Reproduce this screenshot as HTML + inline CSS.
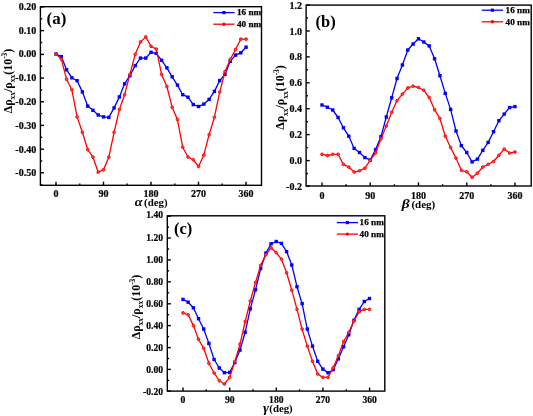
<!DOCTYPE html>
<html><head><meta charset="utf-8"><title>Angular magnetoresistance</title>
<style>
html,body{margin:0;padding:0;background:#fff;}
body{width:533px;height:416px;overflow:hidden;}
svg{display:block;will-change:transform;opacity:0.999;}
text{font-family:"Liberation Serif",serif;font-weight:bold;fill:#000;}
.tk{font-size:10px;stroke:#000;stroke-width:0.2px;}
.tt{}
.lg{font-size:9.2px;stroke:#000;stroke-width:0.25px;}
.ax{stroke:#000;stroke-width:1.4;}
</style></head><body>
<svg width="533" height="416" viewBox="0 0 533 416">
<rect x="0" y="0" width="533" height="416" fill="#ffffff"/>
<line x1="40.4" x2="44.0" y1="6.9" y2="6.9" class="ax"/><text x="36.2" y="9.78" class="tk" text-anchor="end" style="font-size:10px">0.20</text><line x1="40.4" x2="44.0" y1="30.6" y2="30.6" class="ax"/><text x="36.2" y="33.59" class="tk" text-anchor="end" style="font-size:10px">0.10</text><line x1="40.4" x2="44.0" y1="54.4" y2="54.4" class="ax"/><text x="36.2" y="57.40" class="tk" text-anchor="end" style="font-size:10px">0.00</text><line x1="40.4" x2="44.0" y1="78.1" y2="78.1" class="ax"/><text x="36.2" y="81.21" class="tk" text-anchor="end" style="font-size:10px">-0.10</text><line x1="40.4" x2="44.0" y1="101.8" y2="101.8" class="ax"/><text x="36.2" y="105.02" class="tk" text-anchor="end" style="font-size:10px">-0.20</text><line x1="40.4" x2="44.0" y1="125.4" y2="125.4" class="ax"/><text x="36.2" y="128.83" class="tk" text-anchor="end" style="font-size:10px">-0.30</text><line x1="40.4" x2="44.0" y1="149.2" y2="149.2" class="ax"/><text x="36.2" y="152.64" class="tk" text-anchor="end" style="font-size:10px">-0.40</text><line x1="40.4" x2="44.0" y1="172.8" y2="172.8" class="ax"/><text x="36.2" y="176.45" class="tk" text-anchor="end" style="font-size:10px">-0.50</text><line x1="40.4" x2="42.2" y1="18.8" y2="18.8" class="ax"/><line x1="40.4" x2="42.2" y1="42.5" y2="42.5" class="ax"/><line x1="40.4" x2="42.2" y1="66.2" y2="66.2" class="ax"/><line x1="40.4" x2="42.2" y1="89.9" y2="89.9" class="ax"/><line x1="40.4" x2="42.2" y1="113.6" y2="113.6" class="ax"/><line x1="40.4" x2="42.2" y1="137.3" y2="137.3" class="ax"/><line x1="40.4" x2="42.2" y1="161.0" y2="161.0" class="ax"/><line x1="40.4" x2="42.2" y1="184.7" y2="184.7" class="ax"/><line x1="56.0" x2="56.0" y1="185.3" y2="181.7" class="ax"/><text x="56.0" y="197.2" class="tk" text-anchor="middle" style="font-size:10px">0</text><line x1="103.5" x2="103.5" y1="185.3" y2="181.7" class="ax"/><text x="103.5" y="197.2" class="tk" text-anchor="middle" style="font-size:10px">90</text><line x1="151.0" x2="151.0" y1="185.3" y2="181.7" class="ax"/><text x="151.0" y="197.2" class="tk" text-anchor="middle" style="font-size:10px">180</text><line x1="198.5" x2="198.5" y1="185.3" y2="181.7" class="ax"/><text x="198.5" y="197.2" class="tk" text-anchor="middle" style="font-size:10px">270</text><line x1="246.0" x2="246.0" y1="185.3" y2="181.7" class="ax"/><text x="246.0" y="197.2" class="tk" text-anchor="middle" style="font-size:10px">360</text><line x1="79.8" x2="79.8" y1="185.3" y2="183.5" class="ax"/><line x1="127.2" x2="127.2" y1="185.3" y2="183.5" class="ax"/><line x1="174.8" x2="174.8" y1="185.3" y2="183.5" class="ax"/><line x1="222.2" x2="222.2" y1="185.3" y2="183.5" class="ax"/><polyline fill="none" stroke="#0000ff" stroke-width="1.30" stroke-linejoin="round" points="56.0,54.0 61.3,56.6 66.6,69.8 71.8,77.8 77.1,80.7 82.4,91.9 87.7,106.1 93.0,110.3 98.2,115.0 103.5,116.9 108.8,117.4 114.1,107.9 119.4,96.9 124.6,83.8 129.9,75.7 135.2,65.6 140.5,58.1 145.8,58.1 151.0,52.3 156.3,53.4 161.6,60.3 166.9,67.8 172.2,76.8 177.4,85.1 182.7,94.7 188.0,97.2 193.3,104.6 198.6,106.5 203.8,104.1 209.1,99.4 214.4,91.4 219.7,80.6 225.0,74.4 230.2,61.3 235.5,55.1 240.8,52.8 246.1,47.2"/><rect x="54.30" y="52.30" width="3.4" height="3.4" fill="#0000ff"/><rect x="59.58" y="54.90" width="3.4" height="3.4" fill="#0000ff"/><rect x="64.86" y="68.10" width="3.4" height="3.4" fill="#0000ff"/><rect x="70.14" y="76.10" width="3.4" height="3.4" fill="#0000ff"/><rect x="75.42" y="79.00" width="3.4" height="3.4" fill="#0000ff"/><rect x="80.70" y="90.20" width="3.4" height="3.4" fill="#0000ff"/><rect x="85.98" y="104.40" width="3.4" height="3.4" fill="#0000ff"/><rect x="91.26" y="108.60" width="3.4" height="3.4" fill="#0000ff"/><rect x="96.54" y="113.30" width="3.4" height="3.4" fill="#0000ff"/><rect x="101.82" y="115.20" width="3.4" height="3.4" fill="#0000ff"/><rect x="107.10" y="115.70" width="3.4" height="3.4" fill="#0000ff"/><rect x="112.38" y="106.20" width="3.4" height="3.4" fill="#0000ff"/><rect x="117.66" y="95.20" width="3.4" height="3.4" fill="#0000ff"/><rect x="122.94" y="82.10" width="3.4" height="3.4" fill="#0000ff"/><rect x="128.22" y="74.00" width="3.4" height="3.4" fill="#0000ff"/><rect x="133.50" y="63.90" width="3.4" height="3.4" fill="#0000ff"/><rect x="138.78" y="56.40" width="3.4" height="3.4" fill="#0000ff"/><rect x="144.06" y="56.40" width="3.4" height="3.4" fill="#0000ff"/><rect x="149.34" y="50.60" width="3.4" height="3.4" fill="#0000ff"/><rect x="154.62" y="51.70" width="3.4" height="3.4" fill="#0000ff"/><rect x="159.90" y="58.60" width="3.4" height="3.4" fill="#0000ff"/><rect x="165.18" y="66.10" width="3.4" height="3.4" fill="#0000ff"/><rect x="170.46" y="75.10" width="3.4" height="3.4" fill="#0000ff"/><rect x="175.74" y="83.40" width="3.4" height="3.4" fill="#0000ff"/><rect x="181.02" y="93.00" width="3.4" height="3.4" fill="#0000ff"/><rect x="186.30" y="95.50" width="3.4" height="3.4" fill="#0000ff"/><rect x="191.58" y="102.90" width="3.4" height="3.4" fill="#0000ff"/><rect x="196.86" y="104.80" width="3.4" height="3.4" fill="#0000ff"/><rect x="202.14" y="102.40" width="3.4" height="3.4" fill="#0000ff"/><rect x="207.42" y="97.70" width="3.4" height="3.4" fill="#0000ff"/><rect x="212.70" y="89.70" width="3.4" height="3.4" fill="#0000ff"/><rect x="217.98" y="78.90" width="3.4" height="3.4" fill="#0000ff"/><rect x="223.26" y="72.70" width="3.4" height="3.4" fill="#0000ff"/><rect x="228.54" y="59.60" width="3.4" height="3.4" fill="#0000ff"/><rect x="233.82" y="53.40" width="3.4" height="3.4" fill="#0000ff"/><rect x="239.10" y="51.10" width="3.4" height="3.4" fill="#0000ff"/><rect x="244.38" y="45.50" width="3.4" height="3.4" fill="#0000ff"/><polyline fill="none" stroke="#ff0000" stroke-width="1.30" stroke-linejoin="round" points="56.0,54.0 61.3,59.1 66.6,79.3 71.8,89.7 77.1,116.9 82.4,132.3 87.7,149.7 93.0,157.2 98.2,172.2 103.5,169.8 108.8,157.2 114.1,132.3 119.4,109.4 124.6,94.7 129.9,74.4 135.2,54.3 140.5,41.9 145.8,36.9 151.0,46.3 156.3,49.1 161.6,74.4 166.9,86.6 172.2,107.3 177.4,119.5 182.7,147.2 188.0,157.0 193.3,159.8 198.6,166.5 203.8,155.1 209.1,134.7 214.4,117.2 219.7,92.1 225.0,71.6 230.2,59.4 235.5,49.5 240.8,39.1 246.1,39.1"/><circle cx="56.0" cy="54.0" r="1.35" fill="#ff4545" stroke="#ff0000" stroke-width="0.9"/><circle cx="61.3" cy="59.1" r="1.35" fill="#ff4545" stroke="#ff0000" stroke-width="0.9"/><circle cx="66.6" cy="79.3" r="1.35" fill="#ff4545" stroke="#ff0000" stroke-width="0.9"/><circle cx="71.8" cy="89.7" r="1.35" fill="#ff4545" stroke="#ff0000" stroke-width="0.9"/><circle cx="77.1" cy="116.9" r="1.35" fill="#ff4545" stroke="#ff0000" stroke-width="0.9"/><circle cx="82.4" cy="132.3" r="1.35" fill="#ff4545" stroke="#ff0000" stroke-width="0.9"/><circle cx="87.7" cy="149.7" r="1.35" fill="#ff4545" stroke="#ff0000" stroke-width="0.9"/><circle cx="93.0" cy="157.2" r="1.35" fill="#ff4545" stroke="#ff0000" stroke-width="0.9"/><circle cx="98.2" cy="172.2" r="1.35" fill="#ff4545" stroke="#ff0000" stroke-width="0.9"/><circle cx="103.5" cy="169.8" r="1.35" fill="#ff4545" stroke="#ff0000" stroke-width="0.9"/><circle cx="108.8" cy="157.2" r="1.35" fill="#ff4545" stroke="#ff0000" stroke-width="0.9"/><circle cx="114.1" cy="132.3" r="1.35" fill="#ff4545" stroke="#ff0000" stroke-width="0.9"/><circle cx="119.4" cy="109.4" r="1.35" fill="#ff4545" stroke="#ff0000" stroke-width="0.9"/><circle cx="124.6" cy="94.7" r="1.35" fill="#ff4545" stroke="#ff0000" stroke-width="0.9"/><circle cx="129.9" cy="74.4" r="1.35" fill="#ff4545" stroke="#ff0000" stroke-width="0.9"/><circle cx="135.2" cy="54.3" r="1.35" fill="#ff4545" stroke="#ff0000" stroke-width="0.9"/><circle cx="140.5" cy="41.9" r="1.35" fill="#ff4545" stroke="#ff0000" stroke-width="0.9"/><circle cx="145.8" cy="36.9" r="1.35" fill="#ff4545" stroke="#ff0000" stroke-width="0.9"/><circle cx="151.0" cy="46.3" r="1.35" fill="#ff4545" stroke="#ff0000" stroke-width="0.9"/><circle cx="156.3" cy="49.1" r="1.35" fill="#ff4545" stroke="#ff0000" stroke-width="0.9"/><circle cx="161.6" cy="74.4" r="1.35" fill="#ff4545" stroke="#ff0000" stroke-width="0.9"/><circle cx="166.9" cy="86.6" r="1.35" fill="#ff4545" stroke="#ff0000" stroke-width="0.9"/><circle cx="172.2" cy="107.3" r="1.35" fill="#ff4545" stroke="#ff0000" stroke-width="0.9"/><circle cx="177.4" cy="119.5" r="1.35" fill="#ff4545" stroke="#ff0000" stroke-width="0.9"/><circle cx="182.7" cy="147.2" r="1.35" fill="#ff4545" stroke="#ff0000" stroke-width="0.9"/><circle cx="188.0" cy="157.0" r="1.35" fill="#ff4545" stroke="#ff0000" stroke-width="0.9"/><circle cx="193.3" cy="159.8" r="1.35" fill="#ff4545" stroke="#ff0000" stroke-width="0.9"/><circle cx="198.6" cy="166.5" r="1.35" fill="#ff4545" stroke="#ff0000" stroke-width="0.9"/><circle cx="203.8" cy="155.1" r="1.35" fill="#ff4545" stroke="#ff0000" stroke-width="0.9"/><circle cx="209.1" cy="134.7" r="1.35" fill="#ff4545" stroke="#ff0000" stroke-width="0.9"/><circle cx="214.4" cy="117.2" r="1.35" fill="#ff4545" stroke="#ff0000" stroke-width="0.9"/><circle cx="219.7" cy="92.1" r="1.35" fill="#ff4545" stroke="#ff0000" stroke-width="0.9"/><circle cx="225.0" cy="71.6" r="1.35" fill="#ff4545" stroke="#ff0000" stroke-width="0.9"/><circle cx="230.2" cy="59.4" r="1.35" fill="#ff4545" stroke="#ff0000" stroke-width="0.9"/><circle cx="235.5" cy="49.5" r="1.35" fill="#ff4545" stroke="#ff0000" stroke-width="0.9"/><circle cx="240.8" cy="39.1" r="1.35" fill="#ff4545" stroke="#ff0000" stroke-width="0.9"/><circle cx="246.1" cy="39.1" r="1.35" fill="#ff4545" stroke="#ff0000" stroke-width="0.9"/><rect x="40.4" y="6.7" width="221.1" height="178.6" fill="none" class="ax"/><line x1="213.3" x2="234.6" y1="12.6" y2="12.6" stroke="#0000ff" stroke-width="1.30"/><rect x="222.3" y="11.0" width="3.2" height="3.2" fill="#0000ff"/><text x="236.9" y="15.3" class="lg">16 nm</text><line x1="213.3" x2="234.6" y1="24.2" y2="24.2" stroke="#ff0000" stroke-width="1.30"/><circle cx="223.9" cy="24.2" r="1.7" fill="#ff0000"/><text x="236.9" y="26.9" class="lg">40 nm</text><text x="46.5" y="23.7" class="pl" style="font-size:17px">(a)</text><text transform="translate(134.8,205.5) scale(1.22,1)" class="tt" style="font-size:11.5px;font-style:italic">&#945;</text><text x="144.1" y="205.5" class="tt" style="font-size:10.9px">(deg)</text><text transform="translate(11.7,81.0) rotate(-90)" class="tt" text-anchor="middle" style="font-size:12px">&#916;&#961;<tspan dy="3.6" style="font-size:7.4px">xx</tspan><tspan dy="-3.6">/&#961;</tspan><tspan dy="3.6" style="font-size:7.4px">xx</tspan><tspan dy="-3.6">(10</tspan><tspan dy="-4.6" style="font-size:7.4px">-3</tspan><tspan dy="4.6">)</tspan></text><line x1="306.1" x2="309.7" y1="5.0" y2="5.0" class="ax"/><text x="301.9" y="8.73" class="tk" text-anchor="end" style="font-size:10px">1.2</text><line x1="306.1" x2="309.7" y1="31.0" y2="31.0" class="ax"/><text x="301.9" y="34.60" class="tk" text-anchor="end" style="font-size:10px">1.0</text><line x1="306.1" x2="309.7" y1="56.9" y2="56.9" class="ax"/><text x="301.9" y="60.47" class="tk" text-anchor="end" style="font-size:10px">0.8</text><line x1="306.1" x2="309.7" y1="82.8" y2="82.8" class="ax"/><text x="301.9" y="86.34" class="tk" text-anchor="end" style="font-size:10px">0.6</text><line x1="306.1" x2="309.7" y1="108.7" y2="108.7" class="ax"/><text x="301.9" y="112.21" class="tk" text-anchor="end" style="font-size:10px">0.4</text><line x1="306.1" x2="309.7" y1="134.6" y2="134.6" class="ax"/><text x="301.9" y="138.08" class="tk" text-anchor="end" style="font-size:10px">0.2</text><line x1="306.1" x2="309.7" y1="160.6" y2="160.6" class="ax"/><text x="301.9" y="163.95" class="tk" text-anchor="end" style="font-size:10px">0.0</text><line x1="306.1" x2="309.7" y1="186.0" y2="186.0" class="ax"/><text x="301.9" y="189.82" class="tk" text-anchor="end" style="font-size:10px">-0.2</text><line x1="306.1" x2="307.9" y1="18.0" y2="18.0" class="ax"/><line x1="306.1" x2="307.9" y1="43.9" y2="43.9" class="ax"/><line x1="306.1" x2="307.9" y1="69.8" y2="69.8" class="ax"/><line x1="306.1" x2="307.9" y1="95.8" y2="95.8" class="ax"/><line x1="306.1" x2="307.9" y1="121.7" y2="121.7" class="ax"/><line x1="306.1" x2="307.9" y1="147.6" y2="147.6" class="ax"/><line x1="306.1" x2="307.9" y1="173.5" y2="173.5" class="ax"/><line x1="322.0" x2="322.0" y1="186.0" y2="182.4" class="ax"/><text x="322.0" y="198.7" class="tk" text-anchor="middle" style="font-size:10px">0</text><line x1="370.2" x2="370.2" y1="186.0" y2="182.4" class="ax"/><text x="370.2" y="198.7" class="tk" text-anchor="middle" style="font-size:10px">90</text><line x1="418.5" x2="418.5" y1="186.0" y2="182.4" class="ax"/><text x="418.5" y="198.7" class="tk" text-anchor="middle" style="font-size:10px">180</text><line x1="466.8" x2="466.8" y1="186.0" y2="182.4" class="ax"/><text x="466.8" y="198.7" class="tk" text-anchor="middle" style="font-size:10px">270</text><line x1="515.0" x2="515.0" y1="186.0" y2="182.4" class="ax"/><text x="515.0" y="198.7" class="tk" text-anchor="middle" style="font-size:10px">360</text><line x1="346.1" x2="346.1" y1="186.0" y2="184.2" class="ax"/><line x1="394.4" x2="394.4" y1="186.0" y2="184.2" class="ax"/><line x1="442.6" x2="442.6" y1="186.0" y2="184.2" class="ax"/><line x1="490.9" x2="490.9" y1="186.0" y2="184.2" class="ax"/><polyline fill="none" stroke="#0000ff" stroke-width="1.30" stroke-linejoin="round" points="322.0,105.0 327.4,107.2 332.7,110.0 338.1,117.5 343.4,127.8 348.8,136.2 354.2,148.4 359.5,152.5 364.9,157.6 370.2,160.0 375.6,149.6 381.0,136.6 386.3,117.0 391.7,97.8 397.0,78.5 402.4,65.0 407.8,50.0 413.1,44.0 418.5,38.8 423.8,42.0 429.2,45.9 434.6,58.8 439.9,75.7 445.3,93.4 450.6,109.4 456.0,131.0 461.4,145.7 466.7,152.5 472.1,161.9 477.4,159.1 482.8,150.3 488.2,142.4 493.5,131.7 498.9,120.7 504.2,114.1 509.6,107.5 515.0,106.6"/><rect x="320.30" y="103.30" width="3.4" height="3.4" fill="#0000ff"/><rect x="325.66" y="105.50" width="3.4" height="3.4" fill="#0000ff"/><rect x="331.02" y="108.30" width="3.4" height="3.4" fill="#0000ff"/><rect x="336.38" y="115.80" width="3.4" height="3.4" fill="#0000ff"/><rect x="341.74" y="126.10" width="3.4" height="3.4" fill="#0000ff"/><rect x="347.10" y="134.50" width="3.4" height="3.4" fill="#0000ff"/><rect x="352.46" y="146.70" width="3.4" height="3.4" fill="#0000ff"/><rect x="357.82" y="150.80" width="3.4" height="3.4" fill="#0000ff"/><rect x="363.18" y="155.90" width="3.4" height="3.4" fill="#0000ff"/><rect x="368.54" y="158.30" width="3.4" height="3.4" fill="#0000ff"/><rect x="373.90" y="147.90" width="3.4" height="3.4" fill="#0000ff"/><rect x="379.26" y="134.90" width="3.4" height="3.4" fill="#0000ff"/><rect x="384.62" y="115.30" width="3.4" height="3.4" fill="#0000ff"/><rect x="389.98" y="96.10" width="3.4" height="3.4" fill="#0000ff"/><rect x="395.34" y="76.80" width="3.4" height="3.4" fill="#0000ff"/><rect x="400.70" y="63.30" width="3.4" height="3.4" fill="#0000ff"/><rect x="406.06" y="48.30" width="3.4" height="3.4" fill="#0000ff"/><rect x="411.42" y="42.30" width="3.4" height="3.4" fill="#0000ff"/><rect x="416.78" y="37.10" width="3.4" height="3.4" fill="#0000ff"/><rect x="422.14" y="40.30" width="3.4" height="3.4" fill="#0000ff"/><rect x="427.50" y="44.20" width="3.4" height="3.4" fill="#0000ff"/><rect x="432.86" y="57.10" width="3.4" height="3.4" fill="#0000ff"/><rect x="438.22" y="74.00" width="3.4" height="3.4" fill="#0000ff"/><rect x="443.58" y="91.70" width="3.4" height="3.4" fill="#0000ff"/><rect x="448.94" y="107.70" width="3.4" height="3.4" fill="#0000ff"/><rect x="454.30" y="129.30" width="3.4" height="3.4" fill="#0000ff"/><rect x="459.66" y="144.00" width="3.4" height="3.4" fill="#0000ff"/><rect x="465.02" y="150.80" width="3.4" height="3.4" fill="#0000ff"/><rect x="470.38" y="160.20" width="3.4" height="3.4" fill="#0000ff"/><rect x="475.74" y="157.40" width="3.4" height="3.4" fill="#0000ff"/><rect x="481.10" y="148.60" width="3.4" height="3.4" fill="#0000ff"/><rect x="486.46" y="140.70" width="3.4" height="3.4" fill="#0000ff"/><rect x="491.82" y="130.00" width="3.4" height="3.4" fill="#0000ff"/><rect x="497.18" y="119.00" width="3.4" height="3.4" fill="#0000ff"/><rect x="502.54" y="112.40" width="3.4" height="3.4" fill="#0000ff"/><rect x="507.90" y="105.80" width="3.4" height="3.4" fill="#0000ff"/><rect x="513.26" y="104.90" width="3.4" height="3.4" fill="#0000ff"/><polyline fill="none" stroke="#ff0000" stroke-width="1.30" stroke-linejoin="round" points="322.0,154.3 327.4,155.5 332.7,154.3 338.1,154.3 343.4,164.4 348.8,167.1 354.2,172.1 359.5,170.8 364.9,168.2 370.2,160.4 375.6,152.8 381.0,138.8 386.3,126.1 391.7,112.3 397.0,100.6 402.4,94.1 407.8,87.9 413.1,86.2 418.5,87.5 423.8,90.3 429.2,97.5 434.6,109.8 439.9,118.4 445.3,136.2 450.6,147.5 456.0,158.1 461.4,170.3 466.7,171.8 472.1,177.3 477.4,173.2 482.8,167.0 488.2,164.3 493.5,161.5 498.9,155.3 504.2,149.1 509.6,153.1 515.0,152.0"/><circle cx="322.0" cy="154.3" r="1.35" fill="#ff4545" stroke="#ff0000" stroke-width="0.9"/><circle cx="327.4" cy="155.5" r="1.35" fill="#ff4545" stroke="#ff0000" stroke-width="0.9"/><circle cx="332.7" cy="154.3" r="1.35" fill="#ff4545" stroke="#ff0000" stroke-width="0.9"/><circle cx="338.1" cy="154.3" r="1.35" fill="#ff4545" stroke="#ff0000" stroke-width="0.9"/><circle cx="343.4" cy="164.4" r="1.35" fill="#ff4545" stroke="#ff0000" stroke-width="0.9"/><circle cx="348.8" cy="167.1" r="1.35" fill="#ff4545" stroke="#ff0000" stroke-width="0.9"/><circle cx="354.2" cy="172.1" r="1.35" fill="#ff4545" stroke="#ff0000" stroke-width="0.9"/><circle cx="359.5" cy="170.8" r="1.35" fill="#ff4545" stroke="#ff0000" stroke-width="0.9"/><circle cx="364.9" cy="168.2" r="1.35" fill="#ff4545" stroke="#ff0000" stroke-width="0.9"/><circle cx="370.2" cy="160.4" r="1.35" fill="#ff4545" stroke="#ff0000" stroke-width="0.9"/><circle cx="375.6" cy="152.8" r="1.35" fill="#ff4545" stroke="#ff0000" stroke-width="0.9"/><circle cx="381.0" cy="138.8" r="1.35" fill="#ff4545" stroke="#ff0000" stroke-width="0.9"/><circle cx="386.3" cy="126.1" r="1.35" fill="#ff4545" stroke="#ff0000" stroke-width="0.9"/><circle cx="391.7" cy="112.3" r="1.35" fill="#ff4545" stroke="#ff0000" stroke-width="0.9"/><circle cx="397.0" cy="100.6" r="1.35" fill="#ff4545" stroke="#ff0000" stroke-width="0.9"/><circle cx="402.4" cy="94.1" r="1.35" fill="#ff4545" stroke="#ff0000" stroke-width="0.9"/><circle cx="407.8" cy="87.9" r="1.35" fill="#ff4545" stroke="#ff0000" stroke-width="0.9"/><circle cx="413.1" cy="86.2" r="1.35" fill="#ff4545" stroke="#ff0000" stroke-width="0.9"/><circle cx="418.5" cy="87.5" r="1.35" fill="#ff4545" stroke="#ff0000" stroke-width="0.9"/><circle cx="423.8" cy="90.3" r="1.35" fill="#ff4545" stroke="#ff0000" stroke-width="0.9"/><circle cx="429.2" cy="97.5" r="1.35" fill="#ff4545" stroke="#ff0000" stroke-width="0.9"/><circle cx="434.6" cy="109.8" r="1.35" fill="#ff4545" stroke="#ff0000" stroke-width="0.9"/><circle cx="439.9" cy="118.4" r="1.35" fill="#ff4545" stroke="#ff0000" stroke-width="0.9"/><circle cx="445.3" cy="136.2" r="1.35" fill="#ff4545" stroke="#ff0000" stroke-width="0.9"/><circle cx="450.6" cy="147.5" r="1.35" fill="#ff4545" stroke="#ff0000" stroke-width="0.9"/><circle cx="456.0" cy="158.1" r="1.35" fill="#ff4545" stroke="#ff0000" stroke-width="0.9"/><circle cx="461.4" cy="170.3" r="1.35" fill="#ff4545" stroke="#ff0000" stroke-width="0.9"/><circle cx="466.7" cy="171.8" r="1.35" fill="#ff4545" stroke="#ff0000" stroke-width="0.9"/><circle cx="472.1" cy="177.3" r="1.35" fill="#ff4545" stroke="#ff0000" stroke-width="0.9"/><circle cx="477.4" cy="173.2" r="1.35" fill="#ff4545" stroke="#ff0000" stroke-width="0.9"/><circle cx="482.8" cy="167.0" r="1.35" fill="#ff4545" stroke="#ff0000" stroke-width="0.9"/><circle cx="488.2" cy="164.3" r="1.35" fill="#ff4545" stroke="#ff0000" stroke-width="0.9"/><circle cx="493.5" cy="161.5" r="1.35" fill="#ff4545" stroke="#ff0000" stroke-width="0.9"/><circle cx="498.9" cy="155.3" r="1.35" fill="#ff4545" stroke="#ff0000" stroke-width="0.9"/><circle cx="504.2" cy="149.1" r="1.35" fill="#ff4545" stroke="#ff0000" stroke-width="0.9"/><circle cx="509.6" cy="153.1" r="1.35" fill="#ff4545" stroke="#ff0000" stroke-width="0.9"/><circle cx="515.0" cy="152.0" r="1.35" fill="#ff4545" stroke="#ff0000" stroke-width="0.9"/><rect x="306.1" y="5.1" width="225.1" height="180.9" fill="none" class="ax"/><line x1="481.8" x2="503.0" y1="10.2" y2="10.2" stroke="#0000ff" stroke-width="1.30"/><rect x="490.8" y="8.6" width="3.2" height="3.2" fill="#0000ff"/><text x="505.6" y="12.9" class="lg">16 nm</text><line x1="481.8" x2="503.0" y1="21.8" y2="21.8" stroke="#ff0000" stroke-width="1.30"/><circle cx="492.4" cy="21.8" r="1.7" fill="#ff0000"/><text x="505.6" y="24.5" class="lg">40 nm</text><text x="315.5" y="27.0" class="pl" style="font-size:16.5px">(b)</text><text transform="translate(401.7,207.5) scale(1.25,1)" class="tt" style="font-size:12.3px;font-style:italic">&#946;</text><text x="411.4" y="207.5" class="tt" style="font-size:11px">(deg)</text><text transform="translate(284.0,97.5) rotate(-90)" class="tt" text-anchor="middle" style="font-size:12px">&#916;&#961;<tspan dy="3.6" style="font-size:7.4px">xx</tspan><tspan dy="-3.6">/&#961;</tspan><tspan dy="3.6" style="font-size:7.4px">xx</tspan><tspan dy="-3.6">(10</tspan><tspan dy="-4.6" style="font-size:7.4px">-3</tspan><tspan dy="4.6">)</tspan></text><line x1="167.3" x2="170.9" y1="216.2" y2="216.2" class="ax"/><text x="163.1" y="218.47" class="tk" text-anchor="end" style="font-size:9.6px">1.40</text><line x1="167.3" x2="170.9" y1="238.0" y2="238.0" class="ax"/><text x="163.1" y="240.51" class="tk" text-anchor="end" style="font-size:9.6px">1.20</text><line x1="167.3" x2="170.9" y1="259.9" y2="259.9" class="ax"/><text x="163.1" y="262.55" class="tk" text-anchor="end" style="font-size:9.6px">1.00</text><line x1="167.3" x2="170.9" y1="281.8" y2="281.8" class="ax"/><text x="163.1" y="284.59" class="tk" text-anchor="end" style="font-size:9.6px">0.80</text><line x1="167.3" x2="170.9" y1="303.8" y2="303.8" class="ax"/><text x="163.1" y="306.63" class="tk" text-anchor="end" style="font-size:9.6px">0.60</text><line x1="167.3" x2="170.9" y1="325.6" y2="325.6" class="ax"/><text x="163.1" y="328.67" class="tk" text-anchor="end" style="font-size:9.6px">0.40</text><line x1="167.3" x2="170.9" y1="347.6" y2="347.6" class="ax"/><text x="163.1" y="350.71" class="tk" text-anchor="end" style="font-size:9.6px">0.20</text><line x1="167.3" x2="170.9" y1="369.4" y2="369.4" class="ax"/><text x="163.1" y="372.75" class="tk" text-anchor="end" style="font-size:9.6px">0.00</text><line x1="167.3" x2="170.9" y1="391.1" y2="391.1" class="ax"/><text x="163.1" y="394.79" class="tk" text-anchor="end" style="font-size:9.6px">-0.20</text><line x1="167.3" x2="169.1" y1="227.1" y2="227.1" class="ax"/><line x1="167.3" x2="169.1" y1="249.0" y2="249.0" class="ax"/><line x1="167.3" x2="169.1" y1="270.9" y2="270.9" class="ax"/><line x1="167.3" x2="169.1" y1="292.8" y2="292.8" class="ax"/><line x1="167.3" x2="169.1" y1="314.7" y2="314.7" class="ax"/><line x1="167.3" x2="169.1" y1="336.6" y2="336.6" class="ax"/><line x1="167.3" x2="169.1" y1="358.5" y2="358.5" class="ax"/><line x1="167.3" x2="169.1" y1="380.4" y2="380.4" class="ax"/><line x1="183.0" x2="183.0" y1="391.1" y2="387.5" class="ax"/><text x="183.0" y="403.1" class="tk" text-anchor="middle" style="font-size:9.6px">0</text><line x1="229.7" x2="229.7" y1="391.1" y2="387.5" class="ax"/><text x="229.7" y="403.1" class="tk" text-anchor="middle" style="font-size:9.6px">90</text><line x1="276.3" x2="276.3" y1="391.1" y2="387.5" class="ax"/><text x="276.3" y="403.1" class="tk" text-anchor="middle" style="font-size:9.6px">180</text><line x1="322.9" x2="322.9" y1="391.1" y2="387.5" class="ax"/><text x="322.9" y="403.1" class="tk" text-anchor="middle" style="font-size:9.6px">270</text><line x1="369.6" x2="369.6" y1="391.1" y2="387.5" class="ax"/><text x="369.6" y="403.1" class="tk" text-anchor="middle" style="font-size:9.6px">360</text><line x1="206.3" x2="206.3" y1="391.1" y2="389.3" class="ax"/><line x1="253.0" x2="253.0" y1="391.1" y2="389.3" class="ax"/><line x1="299.6" x2="299.6" y1="391.1" y2="389.3" class="ax"/><line x1="346.3" x2="346.3" y1="391.1" y2="389.3" class="ax"/><polyline fill="none" stroke="#0000ff" stroke-width="1.30" stroke-linejoin="round" points="183.0,299.4 188.2,302.2 193.4,307.8 198.5,318.7 203.7,329.0 208.9,343.4 214.1,359.5 219.3,368.0 224.4,372.7 229.6,372.4 234.8,362.5 240.0,350.1 245.2,332.2 250.3,308.8 255.5,289.8 260.7,268.5 265.9,253.1 271.1,243.8 276.2,241.5 281.4,243.4 286.6,251.6 291.8,265.0 297.0,286.7 302.1,303.6 307.3,329.1 312.5,346.1 317.7,361.3 322.9,369.1 328.0,372.8 333.2,369.7 338.4,358.8 343.6,346.8 348.8,334.7 353.9,320.3 359.1,309.4 364.3,301.5 369.5,298.5"/><rect x="181.30" y="297.70" width="3.4" height="3.4" fill="#0000ff"/><rect x="186.48" y="300.50" width="3.4" height="3.4" fill="#0000ff"/><rect x="191.66" y="306.10" width="3.4" height="3.4" fill="#0000ff"/><rect x="196.84" y="317.00" width="3.4" height="3.4" fill="#0000ff"/><rect x="202.02" y="327.30" width="3.4" height="3.4" fill="#0000ff"/><rect x="207.20" y="341.70" width="3.4" height="3.4" fill="#0000ff"/><rect x="212.38" y="357.80" width="3.4" height="3.4" fill="#0000ff"/><rect x="217.56" y="366.30" width="3.4" height="3.4" fill="#0000ff"/><rect x="222.74" y="371.00" width="3.4" height="3.4" fill="#0000ff"/><rect x="227.92" y="370.70" width="3.4" height="3.4" fill="#0000ff"/><rect x="233.10" y="360.80" width="3.4" height="3.4" fill="#0000ff"/><rect x="238.28" y="348.40" width="3.4" height="3.4" fill="#0000ff"/><rect x="243.46" y="330.50" width="3.4" height="3.4" fill="#0000ff"/><rect x="248.64" y="307.10" width="3.4" height="3.4" fill="#0000ff"/><rect x="253.82" y="288.10" width="3.4" height="3.4" fill="#0000ff"/><rect x="259.00" y="266.80" width="3.4" height="3.4" fill="#0000ff"/><rect x="264.18" y="251.40" width="3.4" height="3.4" fill="#0000ff"/><rect x="269.36" y="242.10" width="3.4" height="3.4" fill="#0000ff"/><rect x="274.54" y="239.80" width="3.4" height="3.4" fill="#0000ff"/><rect x="279.72" y="241.70" width="3.4" height="3.4" fill="#0000ff"/><rect x="284.90" y="249.90" width="3.4" height="3.4" fill="#0000ff"/><rect x="290.08" y="263.30" width="3.4" height="3.4" fill="#0000ff"/><rect x="295.26" y="285.00" width="3.4" height="3.4" fill="#0000ff"/><rect x="300.44" y="301.90" width="3.4" height="3.4" fill="#0000ff"/><rect x="305.62" y="327.40" width="3.4" height="3.4" fill="#0000ff"/><rect x="310.80" y="344.40" width="3.4" height="3.4" fill="#0000ff"/><rect x="315.98" y="359.60" width="3.4" height="3.4" fill="#0000ff"/><rect x="321.16" y="367.40" width="3.4" height="3.4" fill="#0000ff"/><rect x="326.34" y="371.10" width="3.4" height="3.4" fill="#0000ff"/><rect x="331.52" y="368.00" width="3.4" height="3.4" fill="#0000ff"/><rect x="336.70" y="357.10" width="3.4" height="3.4" fill="#0000ff"/><rect x="341.88" y="345.10" width="3.4" height="3.4" fill="#0000ff"/><rect x="347.06" y="333.00" width="3.4" height="3.4" fill="#0000ff"/><rect x="352.24" y="318.60" width="3.4" height="3.4" fill="#0000ff"/><rect x="357.42" y="307.70" width="3.4" height="3.4" fill="#0000ff"/><rect x="362.60" y="299.80" width="3.4" height="3.4" fill="#0000ff"/><rect x="367.78" y="296.80" width="3.4" height="3.4" fill="#0000ff"/><polyline fill="none" stroke="#ff0000" stroke-width="1.30" stroke-linejoin="round" points="183.0,312.9 188.2,314.8 193.4,325.6 198.5,339.2 203.7,348.3 208.9,363.3 214.1,373.0 219.3,380.7 224.4,384.0 229.6,377.3 234.8,361.6 240.0,344.2 245.2,321.5 250.3,301.0 255.5,282.6 260.7,265.3 265.9,254.6 271.1,247.9 276.2,252.6 281.4,259.1 286.6,272.8 291.8,290.2 297.0,309.4 302.1,329.1 307.3,346.1 312.5,361.3 317.7,374.0 322.9,377.4 328.0,377.4 333.2,367.8 338.4,355.7 343.6,341.5 348.8,332.3 353.9,321.2 359.1,311.8 364.3,309.4 369.5,309.4"/><circle cx="183.0" cy="312.9" r="1.35" fill="#ff4545" stroke="#ff0000" stroke-width="0.9"/><circle cx="188.2" cy="314.8" r="1.35" fill="#ff4545" stroke="#ff0000" stroke-width="0.9"/><circle cx="193.4" cy="325.6" r="1.35" fill="#ff4545" stroke="#ff0000" stroke-width="0.9"/><circle cx="198.5" cy="339.2" r="1.35" fill="#ff4545" stroke="#ff0000" stroke-width="0.9"/><circle cx="203.7" cy="348.3" r="1.35" fill="#ff4545" stroke="#ff0000" stroke-width="0.9"/><circle cx="208.9" cy="363.3" r="1.35" fill="#ff4545" stroke="#ff0000" stroke-width="0.9"/><circle cx="214.1" cy="373.0" r="1.35" fill="#ff4545" stroke="#ff0000" stroke-width="0.9"/><circle cx="219.3" cy="380.7" r="1.35" fill="#ff4545" stroke="#ff0000" stroke-width="0.9"/><circle cx="224.4" cy="384.0" r="1.35" fill="#ff4545" stroke="#ff0000" stroke-width="0.9"/><circle cx="229.6" cy="377.3" r="1.35" fill="#ff4545" stroke="#ff0000" stroke-width="0.9"/><circle cx="234.8" cy="361.6" r="1.35" fill="#ff4545" stroke="#ff0000" stroke-width="0.9"/><circle cx="240.0" cy="344.2" r="1.35" fill="#ff4545" stroke="#ff0000" stroke-width="0.9"/><circle cx="245.2" cy="321.5" r="1.35" fill="#ff4545" stroke="#ff0000" stroke-width="0.9"/><circle cx="250.3" cy="301.0" r="1.35" fill="#ff4545" stroke="#ff0000" stroke-width="0.9"/><circle cx="255.5" cy="282.6" r="1.35" fill="#ff4545" stroke="#ff0000" stroke-width="0.9"/><circle cx="260.7" cy="265.3" r="1.35" fill="#ff4545" stroke="#ff0000" stroke-width="0.9"/><circle cx="265.9" cy="254.6" r="1.35" fill="#ff4545" stroke="#ff0000" stroke-width="0.9"/><circle cx="271.1" cy="247.9" r="1.35" fill="#ff4545" stroke="#ff0000" stroke-width="0.9"/><circle cx="276.2" cy="252.6" r="1.35" fill="#ff4545" stroke="#ff0000" stroke-width="0.9"/><circle cx="281.4" cy="259.1" r="1.35" fill="#ff4545" stroke="#ff0000" stroke-width="0.9"/><circle cx="286.6" cy="272.8" r="1.35" fill="#ff4545" stroke="#ff0000" stroke-width="0.9"/><circle cx="291.8" cy="290.2" r="1.35" fill="#ff4545" stroke="#ff0000" stroke-width="0.9"/><circle cx="297.0" cy="309.4" r="1.35" fill="#ff4545" stroke="#ff0000" stroke-width="0.9"/><circle cx="302.1" cy="329.1" r="1.35" fill="#ff4545" stroke="#ff0000" stroke-width="0.9"/><circle cx="307.3" cy="346.1" r="1.35" fill="#ff4545" stroke="#ff0000" stroke-width="0.9"/><circle cx="312.5" cy="361.3" r="1.35" fill="#ff4545" stroke="#ff0000" stroke-width="0.9"/><circle cx="317.7" cy="374.0" r="1.35" fill="#ff4545" stroke="#ff0000" stroke-width="0.9"/><circle cx="322.9" cy="377.4" r="1.35" fill="#ff4545" stroke="#ff0000" stroke-width="0.9"/><circle cx="328.0" cy="377.4" r="1.35" fill="#ff4545" stroke="#ff0000" stroke-width="0.9"/><circle cx="333.2" cy="367.8" r="1.35" fill="#ff4545" stroke="#ff0000" stroke-width="0.9"/><circle cx="338.4" cy="355.7" r="1.35" fill="#ff4545" stroke="#ff0000" stroke-width="0.9"/><circle cx="343.6" cy="341.5" r="1.35" fill="#ff4545" stroke="#ff0000" stroke-width="0.9"/><circle cx="348.8" cy="332.3" r="1.35" fill="#ff4545" stroke="#ff0000" stroke-width="0.9"/><circle cx="353.9" cy="321.2" r="1.35" fill="#ff4545" stroke="#ff0000" stroke-width="0.9"/><circle cx="359.1" cy="311.8" r="1.35" fill="#ff4545" stroke="#ff0000" stroke-width="0.9"/><circle cx="364.3" cy="309.4" r="1.35" fill="#ff4545" stroke="#ff0000" stroke-width="0.9"/><circle cx="369.5" cy="309.4" r="1.35" fill="#ff4545" stroke="#ff0000" stroke-width="0.9"/><rect x="167.3" y="215.8" width="217.5" height="175.3" fill="none" class="ax"/><line x1="336.8" x2="358.0" y1="222.6" y2="222.6" stroke="#0000ff" stroke-width="1.30"/><rect x="345.8" y="221.0" width="3.2" height="3.2" fill="#0000ff"/><text x="359.6" y="225.3" class="lg">16 nm</text><line x1="336.8" x2="358.0" y1="234.1" y2="234.1" stroke="#ff0000" stroke-width="1.30"/><circle cx="347.4" cy="234.1" r="1.7" fill="#ff0000"/><text x="359.6" y="236.8" class="lg">40 nm</text><text x="173.9" y="234.1" class="pl" style="font-size:16.5px">(c)</text><text transform="translate(263.0,412.3) scale(1.25,1)" class="tt" style="font-size:11.5px;font-style:italic">&#947;</text><text x="269.3" y="412.3" class="tt" style="font-size:10.8px">(deg)</text><text transform="translate(139.7,307.0) rotate(-90)" class="tt" text-anchor="middle" style="font-size:12px">&#916;&#961;<tspan dy="3.6" style="font-size:7.4px">xx</tspan><tspan dy="-3.6">/&#961;</tspan><tspan dy="3.6" style="font-size:7.4px">xx</tspan><tspan dy="-3.6">(10</tspan><tspan dy="-4.6" style="font-size:7.4px">-3</tspan><tspan dy="4.6">)</tspan></text>
</svg>
</body></html>
